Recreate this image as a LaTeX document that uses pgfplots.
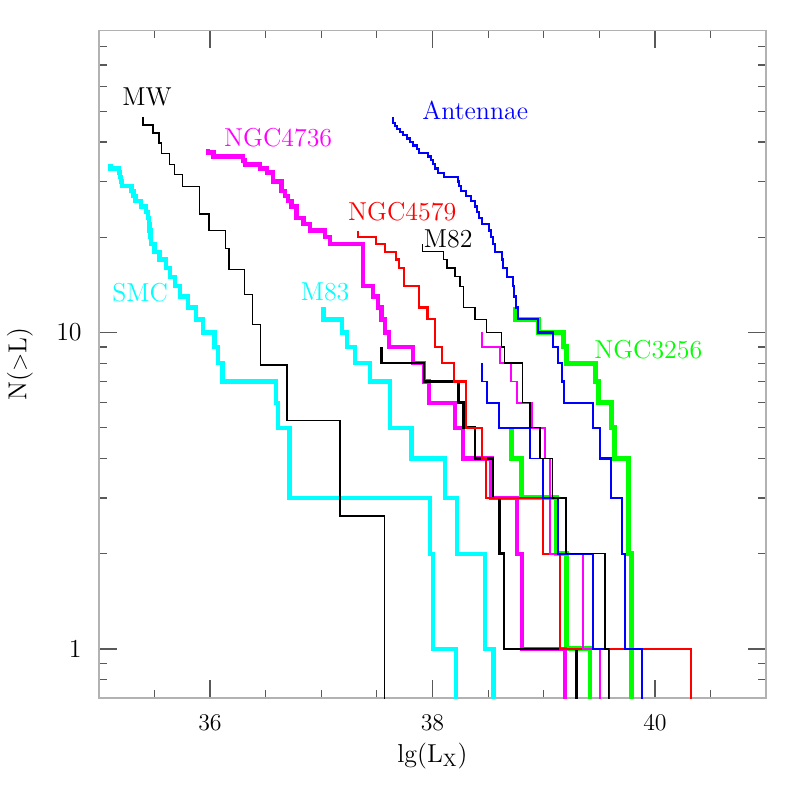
\documentclass[border=0pt]{standalone}
\usepackage{pgfplots}
\pgfplotsset{compat=1.18}
\definecolor{pcyan}{RGB}{0,255,255}
\definecolor{pmagenta}{RGB}{255,0,255}
\definecolor{pgreen}{RGB}{0,255,0}
\definecolor{pred}{RGB}{255,0,0}
\definecolor{pblue}{RGB}{0,0,255}
\begin{document}
\begin{tikzpicture}
\begin{axis}[
    scale only axis, width=333.75bp, height=333.75bp,
    xmin=35, xmax=41, ymin=0.7, ymax=90, ymode=log,
    xtick={36,38,40},
    minor xtick={35.5,36.5,37,37.5,38.5,39,39.5,40.5},
    ytick={1,10}, yticklabels={1,10},
    minor ytick={0.8,0.9,2,3,4,5,6,7,8,9,20,30,40,50,60,70,80},
    tick pos=both, tick align=inside,
    major tick length=9bp, minor tick length=4bp,
    axis line style={black!30, line width=0.8pt},
    tick style={black!65, line width=0.6pt},
    tick label style={font=\fontsize{13}{15}\selectfont},
    xticklabel style={yshift=-5bp},
    yticklabel style={xshift=-5bp},
    label style={font=\fontsize{13}{15}\selectfont},
    xlabel={lg(L$_\mathrm{X}$)},
    ylabel={N($>$L)},
    xlabel style={at={(axis description cs:0.5,-0.087)}, anchor=center},
    ylabel style={at={(axis description cs:-0.118,0.5)}, anchor=center},
    every axis plot/.append style={const plot mark right, no markers},
]
% thick curves first
\addplot[pgreen, line width=2.5pt] coordinates {
  (38.742,12)(38.951,11)(39.176,10)(39.206,9)(39.461,8)(39.490,7)
  (39.611,6)(39.632,5)(39.760,4)(39.791,2)(39.791,0.5)};
\addplot[pgreen, line width=2.5pt] coordinates {
  (38.706,5)(38.802,4)(39.116,3)(39.206,2)(39.416,1)(39.416,0.5)};
% SMC
\addplot[pcyan, line width=2.2pt] coordinates {
  (35.107,34)(35.182,33)(35.191,32)(35.200,31)(35.209,30)(35.293,29)
  (35.314,28)(35.332,27)(35.382,26)(35.427,25)(35.443,24)(35.452,23)
  (35.458,22)(35.465,21)(35.472,20)(35.503,19)(35.548,18)(35.607,17)
  (35.640,16)(35.688,15)(35.728,14)(35.802,13)(35.877,12)(35.937,11)
  (36.042,10)(36.072,9)(36.111,8)(36.596,7)(36.611,6)(36.716,5)
  (37.978,3)(38.007,2)(38.211,1)(38.211,0.5)};
% M83
\addplot[pcyan, line width=2.2pt] coordinates {
  (37.020,12)(37.184,11)(37.229,10)(37.303,9)(37.438,8)(37.618,7)
  (37.813,5)(38.112,4)(38.218,3)(38.472,2)(38.547,1)(38.547,0.5)};
% NGC4736
\addplot[pmagenta, line width=2.2pt] coordinates {
  (35.985,38)(36.030,37)(36.299,36)(36.315,35)(36.449,34)(36.510,33)
  (36.569,32)(36.644,30)(36.674,28)(36.704,27)(36.734,26)(36.779,25)
  (36.839,23)(36.899,22)(37.034,21)(37.079,20)(37.378,19)(37.468,14)
  (37.513,13)(37.543,12)(37.573,11)(37.609,10)(37.827,9)(37.924,8)
  (37.971,7)(38.202,6)(38.277,5)(38.532,4)(38.757,3)(38.804,2)
  (39.191,1)(39.191,0.5)};
% unlabelled black
\addplot[black, line width=1.3pt] coordinates {
  (37.543,9)(37.924,8)(38.232,7)(38.277,6)(38.382,5)(38.544,4)
  (38.600,3)(38.643,2)(39.296,1)(39.296,0.5)};
% NGC4579
\addplot[pred, line width=1.1pt] coordinates {
  (37.333,21)(37.492,20)(37.573,19)(37.672,18)(37.702,17)(37.744,16)
  (37.879,14)(37.955,12)(38.025,11)(38.083,9)(38.194,8)(38.298,7)
  (38.442,5)(38.478,4)(38.996,3)(39.146,2)(40.321,1)(40.321,0.5)};
% Antennae
\addplot[pblue, line width=1.1pt] coordinates {
  (37.642,48)(37.648,47)(37.663,46)(37.684,45)(37.708,44)(37.732,43)
  (37.768,42)(37.798,41)(37.822,40)(37.863,39)(37.879,38)(37.962,37)
  (37.984,36)(38.002,35)(38.022,34)(38.052,33)(38.103,32)(38.232,31)
  (38.236,30)(38.253,29)(38.301,28)(38.343,27)(38.382,26)(38.397,25)
  (38.415,24)(38.442,23)(38.508,22)(38.523,21)(38.541,20)(38.559,19)
  (38.627,18)(38.636,17)(38.667,16)(38.721,15)(38.733,14)(38.751,13)
  (38.771,12)(38.951,11)(39.086,10)(39.131,9)(39.161,8)(39.182,7)
  (39.445,6)(39.507,5)(39.605,4)(39.706,3)(39.730,2)(39.880,1)
  (39.880,0.5)};
% unlabelled thin magenta and blue
\addplot[pmagenta, line width=0.9pt] coordinates {
  (38.448,10)(38.607,9)(38.706,8)(38.757,7)(38.892,6)(39.011,5)
  (39.056,4)(39.355,2)(39.507,1)(39.507,0.5)};
\addplot[pblue, line width=0.9pt] coordinates {
  (38.448,8)(38.487,7)(38.600,6)(38.876,5)(38.996,4)(39.131,3)
  (39.440,2)(39.587,1)(39.587,0.5)};
% M82
\addplot[black, line width=0.7pt] coordinates {
  (37.908,19)(38.097,18)(38.130,17)(38.202,16)(38.247,15)(38.277,14)
  (38.382,12)(38.487,11)(38.622,10)(38.645,9)(38.811,8)(38.876,6)
  (38.966,5)(39.081,4)(39.200,3)(39.551,2)(39.580,1)(39.580,0.5)};
% MW
\addplot[black, line width=0.7pt] coordinates {
  (35.398,48.0)(35.488,45.3)(35.542,42.7)(35.562,39.7)(35.638,36.8)
  (35.683,34.0)(35.751,31.5)(35.907,28.9)(35.991,23.7)(36.141,21.0)
  (36.171,18.4)(36.312,15.8)(36.380,13.2)(36.452,10.6)(36.692,7.9)
  (37.168,5.27)(37.567,2.63)(37.567,0.5)};

\begin{scope}[font=\fontsize{13}{15}\selectfont]
\node[text=black] at (axis cs:35.434,55.5) {MW};
\node[text=pmagenta] at (axis cs:36.613,41.2) {NGC4736};
\node[text=pblue] at (axis cs:38.384,50.5) {Antennae};
\node[text=pred] at (axis cs:37.728,24.1) {NGC4579};
\node[text=black] at (axis cs:38.142,19.7) {M82};
\node[text=pcyan] at (axis cs:35.372,13.4) {SMC};
\node[text=pcyan] at (axis cs:37.035,13.4) {M83};
\node[text=pgreen] at (axis cs:39.940,8.84) {NGC3256};
\end{scope}

\coordinate (bbl) at (rel axis cs:-0.1479,-0.1483);
\coordinate (btr) at (rel axis cs:1.0461,1.0457);
\end{axis}
\path (bbl) rectangle (btr);
\end{tikzpicture}
\end{document}
